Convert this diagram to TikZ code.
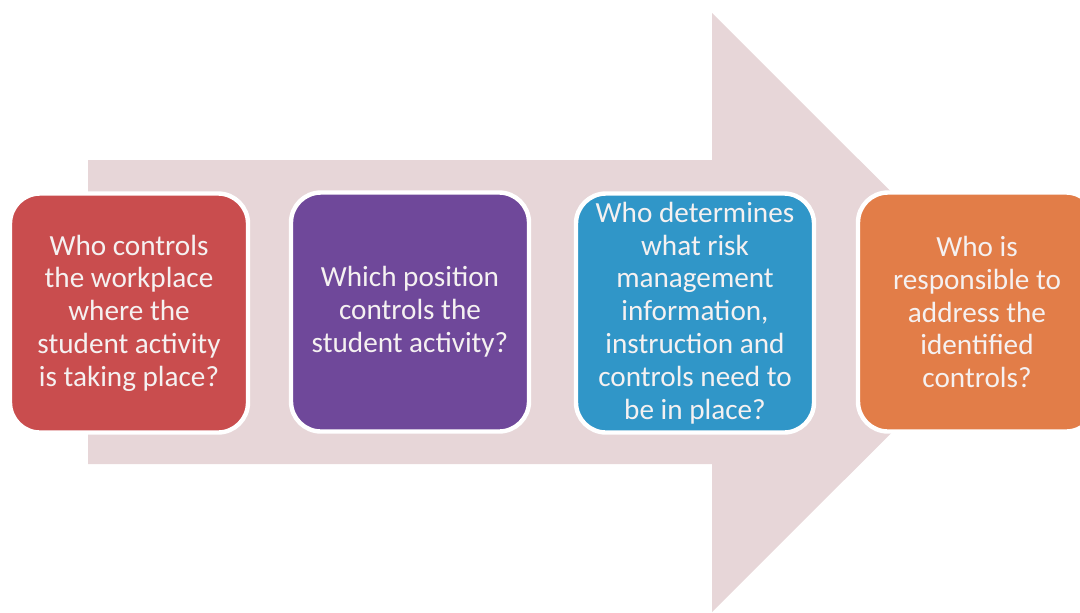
\documentclass[tikz,border=0pt]{standalone}
\usepackage{fontspec}
\setmainfont{Carlito}
\definecolor{arrowfill}{HTML}{E7D6D8}
\definecolor{qred}{HTML}{C94D4E}
\definecolor{qpurple}{HTML}{6F489A}
\definecolor{qblue}{HTML}{3096C8}
\definecolor{qorange}{HTML}{E27D48}
\definecolor{qtext}{HTML}{F5F1F1}
\tikzset{
  qbox/.style={draw=white, line width=2.2pt, rounded corners=15pt,
    minimum width=119pt, minimum height=119.5pt, inner sep=0pt,
    align=center, text=qtext,
    font=\fontsize{14.6pt}{16.4pt}\selectfont}
}
\begin{document}
\begin{tikzpicture}[x=0.5pt,y=-0.5pt]
  \useasboundingbox (0,0) rectangle (1080,612);
  % large process arrow behind the steps
  \fill[arrowfill] (88,160) -- (712,160) -- (712,13) -- (1012,312.5)
    -- (712,612) -- (712,464) -- (88,464) -- cycle;
  % the four steps
  \node[qbox, fill=qred] (who) at (129,313)
    {Who controls\\the workplace\\where the\\student activity\\is taking place?};
  \node[qbox, fill=qpurple] (position) at (410,312)
    {Which position\\controls the\\student activity?};
  \node[qbox, fill=qblue] (determine) at (695,313)
    {Who determines\\what risk\\management\\information,\\instruction and\\controls need to\\be in place?};
  \node[qbox, fill=qorange] (responsible) at (977,312)
    {Who is\\responsible to\\address the\\identified\\controls?};
\end{tikzpicture}
\end{document}
